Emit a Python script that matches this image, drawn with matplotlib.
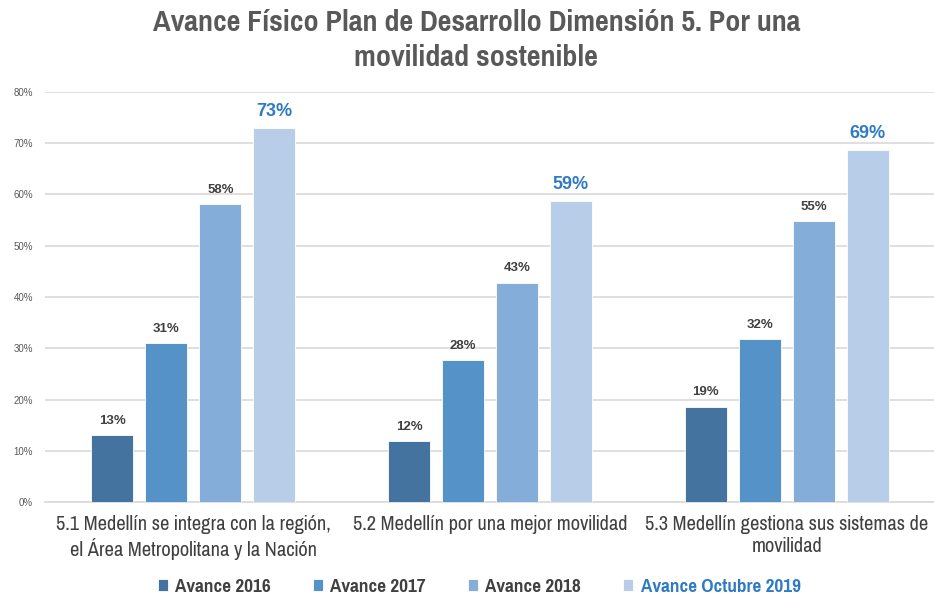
import matplotlib
matplotlib.use("Agg")
import matplotlib.pyplot as plt
import numpy as np

categories = ["5.1 Medellín se integra con la región,\nel Área Metropolitana y la Nación",
              "5.2 Medellín por una mejor movilidad",
              "5.3 Medellín gestiona sus sistemas de\nmovilidad"]
series_names = ["Avance 2016", "Avance 2017", "Avance 2018", "Avance Octubre 2019"]
avance_2016 = [13.1, 11.9, 18.6]
avance_2017 = [31.0, 27.7, 31.8]
avance_2018 = [58.1, 42.8, 54.8]
avance_oct_2019 = [73.0, 58.8, 68.7]
yticks = [0, 10, 20, 30, 40, 50, 60, 70, 80]

series = [avance_2016, avance_2017, avance_2018, avance_oct_2019]
colors = ["#44739F", "#5592C7", "#84ADDA", "#B8CDE7"]

NARROW = ["Pragati Narrow", "Liberation Sans", "DejaVu Sans"]
WIDE = ["Liberation Sans", "DejaVu Sans"]
plt.rcParams['font.family'] = NARROW

fig = plt.figure(figsize=(9.34, 5.99), dpi=100)
ax = fig.add_axes([45/934, 1-502/599, 890/934, 410/599])

x = np.arange(len(categories))
w = 42/297
step = 54/297
offsets = (np.arange(4) - 1.5) * step
for i, (vals, c) in enumerate(zip(series, colors)):
    bars = ax.bar(x + offsets[i], vals, width=w, color=c, label=series_names[i], zorder=3,
                  edgecolor="white", linewidth=0.6)
    for b, v in zip(bars, vals):
        if i == 3:
            ax.text(b.get_x()+b.get_width()/2, v + 2.3, f"{v:.0f}%", ha="center", va="baseline",
                    fontsize=13, fontweight="bold", color="#2E7BC4", family=WIDE)
        else:
            ax.text(b.get_x()+b.get_width()/2, v + 2.2, f"{v:.0f}%", ha="center", va="baseline",
                    fontsize=9.5, fontweight="bold", color="#404040", family=WIDE)

ax.set_xlim(-0.5, 2.5)
ax.set_ylim(0, 80)
ax.set_yticks(yticks)
ax.set_yticklabels([f"{t}%" for t in yticks], fontsize=7, color="#595959", family=WIDE)
ax.yaxis.grid(True, color="#D9D9D9", linewidth=1.2, zorder=0)
ax.set_axisbelow(True)
for s in ["top", "right", "left"]:
    ax.spines[s].set_visible(False)
ax.spines["bottom"].set_color("#D9D9D9")
ax.spines["bottom"].set_linewidth(1.2)
ax.tick_params(axis="y", length=0, pad=8.5)
ax.tick_params(axis="x", length=0, pad=9)
ax.set_xticks(x)
ax.set_xticklabels(categories, fontsize=16, color="#404040", linespacing=1.25)

fig.text(0.51, 1-40/599, "Avance Físico Plan de Desarrollo Dimensión 5. Por una\nmovilidad sostenible",
         ha="center", va="center", fontsize=23.5, fontweight="bold", color="#595959", linespacing=1.32)

leg = fig.legend(loc="center", bbox_to_anchor=(0.513, 1-587/599), ncol=4, frameon=False,
                 handlelength=0.5, handleheight=0.5, handletextpad=0.35, columnspacing=2.0,
                 prop={"weight": "bold", "size": 15, "family": NARROW})
for t in leg.get_texts():
    t.set_color("#404040")
leg.get_texts()[3].set_color("#2E7BC4")

fig.savefig("out.png", dpi=100)
